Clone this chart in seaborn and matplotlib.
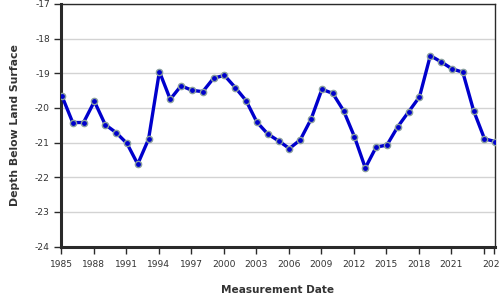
import matplotlib
matplotlib.use("Agg")
import matplotlib.pyplot as plt
import seaborn as sns
import pandas as pd
import numpy as np

years = list(range(1985, 2026))
depth = [-19.65, -20.42, -20.42, -19.81, -20.48, -20.71, -21.02, -21.62, -20.90, -18.95,
         -19.75, -19.36, -19.49, -19.53, -19.14, -19.06, -19.41, -19.79, -20.41, -20.75,
         -20.95, -21.17, -20.92, -20.32, -19.46, -19.58, -20.08, -20.83, -21.73, -21.13,
         -21.07, -20.54, -20.11, -19.68, -18.49, -18.67, -18.87, -18.97, -20.08, -20.89,
         -20.97]
x_ticks = [1985, 1988, 1991, 1994, 1997, 2000, 2003, 2006, 2009, 2012, 2015, 2018, 2021, 2024, 2025]
x_ticklabels = ["1985", "1988", "1991", "1994", "1997", "2000", "2003", "2006", "2009",
                "2012", "2015", "2018", "2021", "", "2025"]
y_ticks = [-24, -23, -22, -21, -20, -19, -18, -17]

df = pd.DataFrame({"date": np.array(years) + 0.08, "depth": depth})

sns.set_style("white")
plt.rcParams['font.family'] = ['DejaVu Sans']

fig = plt.figure(figsize=(5, 3), dpi=100)
ax = fig.add_axes([0.122, 0.178, 0.868, 0.8087])

sns.lineplot(data=df, x="date", y="depth", ax=ax, color="#0000cc", linewidth=2.4,
             marker="o", markersize=4.5, markerfacecolor="#0000cc",
             markeredgecolor="#8a9f9f", markeredgewidth=1.0, zorder=3)

ax.set_xlim(1985, 2025.05)
ax.set_ylim(-24, -17)
ax.set_yticks(y_ticks)
ax.set_yticklabels([str(v) for v in y_ticks])
ax.set_xticks(x_ticks)
ax.set_xticklabels(x_ticklabels)
ax.yaxis.grid(True, color="#d3d3d3", linewidth=1)
ax.xaxis.grid(False)
ax.set_axisbelow(True)

for side in ["left", "bottom"]:
    ax.spines[side].set_linewidth(2.2)
    ax.spines[side].set_color("#2a2a2a")
for side in ["top", "right"]:
    ax.spines[side].set_linewidth(1.0)
    ax.spines[side].set_color("#2a2a2a")

ax.tick_params(axis="both", which="both", direction="out", length=5, width=1,
               color="#2a2a2a", labelsize=6.6, labelcolor="#333333", pad=3,
               left=True, bottom=True)
ax.tick_params(axis="x", pad=5)

ax.set_xlabel("Measurement Date", fontsize=7.6, fontweight="bold", color="#333333", labelpad=11)
ax.set_ylabel("Depth Below Land Surface", fontsize=7.8, fontweight="bold", color="#333333")
ax.yaxis.set_label_coords(-0.094, 0.5)

fig.savefig("out.png", dpi=100)
